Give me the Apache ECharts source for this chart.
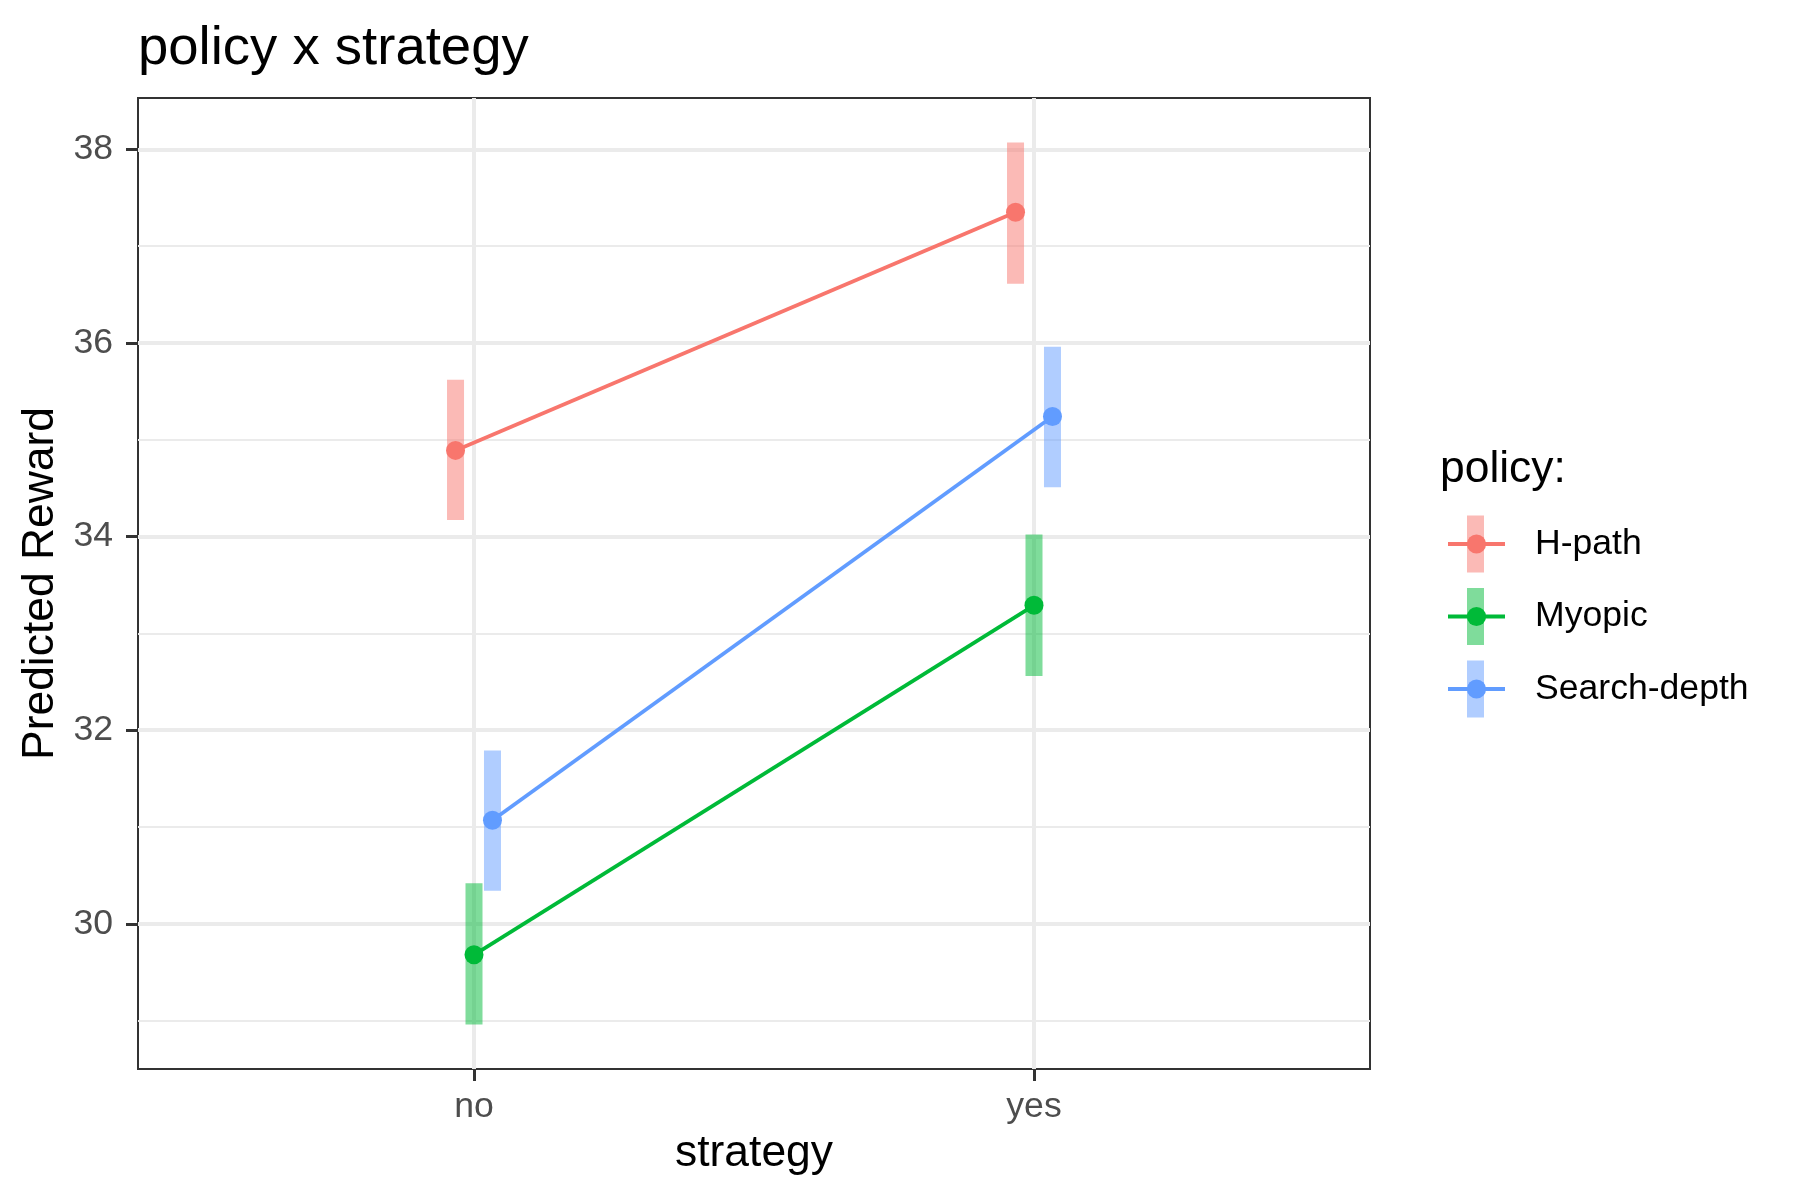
<!DOCTYPE html>
<html>
<head>
<meta charset="utf-8">
<title>policy x strategy</title>
<script src="https://cdn.jsdelivr.net/npm/echarts@6/dist/echarts.min.js"></script>
<style>
  html, body { margin: 0; padding: 0; background: #ffffff; }
  #chart { width: 1800px; height: 1200px; }
</style>
</head>
<body>
<div id="chart"></div>
<script>
// data
var strategies = ['no', 'yes'];
var policies = ['H-path', 'Myopic', 'Search-depth'];
var colors = ['#F8766D', '#00BA38', '#619CFF'];
var barColors = ['rgba(248,118,109,0.5)', 'rgba(0,186,56,0.5)', 'rgba(97,156,255,0.5)'];

var estHPath = [34.89, 37.35];
var estMyopic = [29.68, 33.29];
var estSearch = [31.07, 35.24];
var lowHPath = [34.17, 36.61];
var lowMyopic = [28.96, 32.56];
var lowSearch = [30.34, 34.51];
var highHPath = [35.62, 38.07];
var highMyopic = [30.42, 34.02];
var highSearch = [31.79, 35.96];

var yMajorTicks = [30, 32, 34, 36, 38];
var yMinorTicks = [29, 31, 33, 35, 37];
var xTicks = [1, 2];

var estimates = [estHPath, estMyopic, estSearch];
var lows = [lowHPath, lowMyopic, lowSearch];
var highs = [highHPath, highMyopic, highSearch];

var dodge = 0.033;   // position_dodge offset per group
var barW = 17;       // errorbar thickness, px
var font = '"Liberation Sans", Arial, Helvetica, sans-serif';

function xPos(i, j) {
  return j + 1 + (i - 1) * dodge;
}

var series = [];
// errorbars (drawn first)
policies.forEach(function (p, i) {
  var data = [];
  for (var j = 0; j < strategies.length; j++) {
    data.push([xPos(i, j), lows[i][j], highs[i][j]]);
  }
  series.push({
    name: p + ' CI',
    type: 'custom',
    itemStyle: { color: barColors[i] },
    renderItem: function (params, api) {
      var x = api.value(0);
      var lo = api.coord([x, api.value(1)]);
      var hi = api.coord([x, api.value(2)]);
      return {
        type: 'rect',
        shape: { x: lo[0] - barW / 2, y: hi[1], width: barW, height: lo[1] - hi[1] },
        style: { fill: api.visual('color') }
      };
    },
    encode: { x: 0, y: [1, 2] },
    data: data,
    z: 2
  });
});
// lines + points
policies.forEach(function (p, i) {
  var data = [];
  for (var j = 0; j < strategies.length; j++) {
    data.push([xPos(i, j), estimates[i][j]]);
  }
  series.push({
    name: p,
    type: 'line',
    data: data,
    symbol: 'circle',
    symbolSize: 19,
    showSymbol: true,
    color: colors[i],
    itemStyle: { color: colors[i] },
    lineStyle: { color: colors[i], width: 3.8 },
    emphasis: { disabled: true },
    z: 3
  });
});

var chart = echarts.init(document.getElementById('chart'), null, { renderer: 'canvas' });
chart.setOption({
  animation: false,
  backgroundColor: '#ffffff',
  title: [
    {
      text: 'policy x strategy',
      left: 138,
      top: 21,
      padding: 0,
      textStyle: { fontFamily: font, fontSize: 54.5, fontWeight: 'normal', color: '#000000' }
    },
    {
      text: 'policy:',
      left: 1440,
      top: 448,
      padding: 0,
      textStyle: { fontFamily: font, fontSize: 44.4, fontWeight: 'normal', color: '#000000' }
    }
  ],
  legend: [
    {
      // errorbar part of the keys
      orient: 'vertical',
      left: 1467,
      top: 515.5,
      padding: 0,
      itemGap: 15.5,
      itemWidth: 17,
      itemHeight: 57,
      icon: 'rect',
      selectedMode: false,
      data: policies.map(function (p) { return p + ' CI'; }),
      textStyle: { color: 'rgba(0,0,0,0)', fontSize: 36, lineHeight: 36 }
    },
    {
      // line + point part of the keys, with labels
      orient: 'vertical',
      left: 1446,
      top: 526,
      padding: 0,
      itemGap: 36.5,
      itemWidth: 57,
      itemHeight: 24,
      selectedMode: false,
      data: policies,
      lineStyle: { width: 4 },
      textStyle: {
        fontFamily: font, fontSize: 35.6, lineHeight: 36, color: '#000000',
        padding: [0, 0, 0, 25]
      }
    }
  ],
  grid: {
    left: 138,
    right: 430,
    top: 98,
    bottom: 131,
    show: true,
    borderColor: '#333333',
    borderWidth: 2,
    backgroundColor: '#ffffff'
  },
  xAxis: {
    type: 'value',
    min: 0.4,
    max: 2.6,
    name: 'strategy',
    nameLocation: 'middle',
    nameGap: 63,
    nameTextStyle: { fontFamily: font, fontSize: 44.4, color: '#000000' },
    axisLine: { show: false },
    axisTick: {
      show: true, length: 12, customValues: xTicks,
      lineStyle: { color: '#333333', width: 3 }
    },
    axisLabel: {
      customValues: xTicks,
      margin: 20,
      fontFamily: font, fontSize: 35.6, color: '#4D4D4D',
      formatter: function (v) { return strategies[Math.round(v) - 1] || ''; }
    },
    splitLine: { show: true, lineStyle: { color: '#EBEBEB', width: 4 } }
  },
  yAxis: [
    {
      type: 'value',
      min: 28.5,
      max: 38.53,
      name: 'Predicted Reward',
      nameLocation: 'middle',
      nameGap: 74,
      nameTextStyle: { fontFamily: font, fontSize: 44.4, color: '#000000' },
      axisLine: { show: false },
      axisTick: {
        show: true, length: 12, customValues: yMajorTicks,
        lineStyle: { color: '#333333', width: 3 }
      },
      axisLabel: {
        customValues: yMajorTicks,
        margin: 25,
        fontFamily: font, fontSize: 35.6, color: '#4D4D4D'
      },
      splitLine: { show: true, lineStyle: { color: '#EBEBEB', width: 4 } }
    },
    {
      // minor gridlines only
      type: 'value',
      min: 28.5,
      max: 38.53,
      position: 'left',
      axisLine: { show: false },
      axisTick: { show: false, customValues: yMinorTicks },
      axisLabel: { show: false, customValues: yMinorTicks },
      splitLine: { show: true, lineStyle: { color: '#EBEBEB', width: 2 } }
    }
  ],
  series: series
});
</script>
</body>
</html>
